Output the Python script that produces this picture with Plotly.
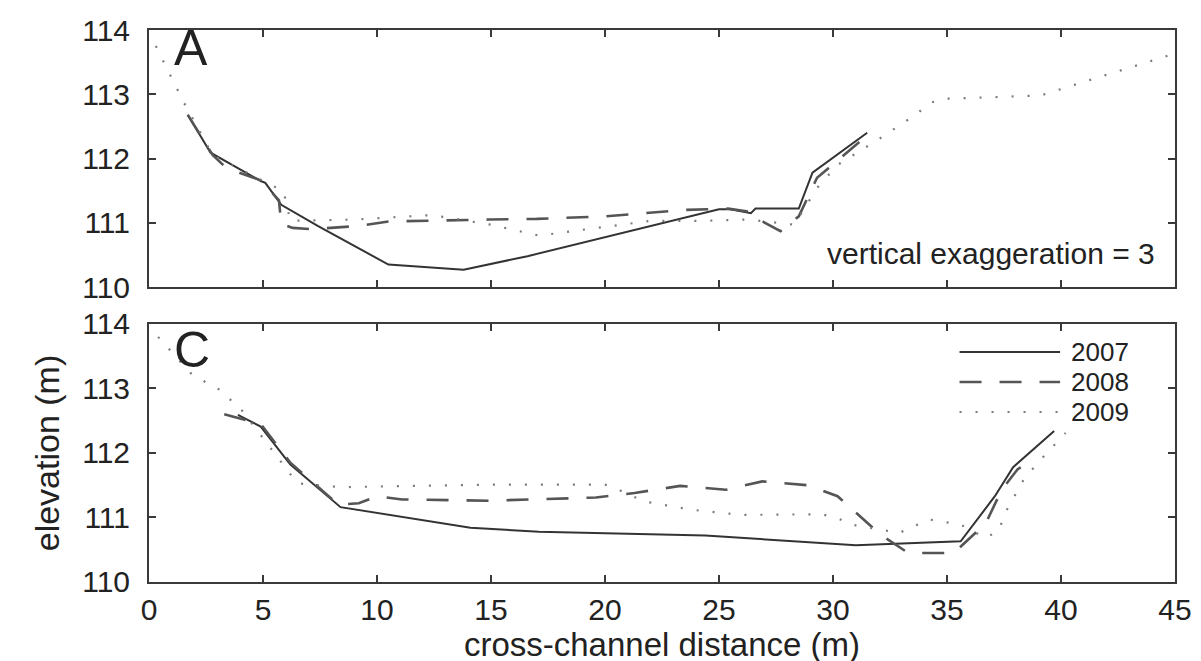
import plotly.graph_objects as go
from plotly.subplots import make_subplots

# ---------------- data ----------------
# Panel A
a2007_x = [1.7, 2.7, 4.9, 5.1, 5.8, 7.4, 10.5, 13.8, 16.6, 25.0, 25.5, 26.4, 26.6, 28.5, 29.1, 30.2, 31.5]
a2007_y = [112.68, 112.09, 111.65, 111.62, 111.28, 110.95, 110.35, 110.27, 110.48, 111.21, 111.21, 111.15,
           111.22, 111.22, 111.78, 112.06, 112.4]
a2008_x = [1.7, 2.8, 3.4, 4.9, 5.7, 5.8, 6.3, 7.1, 9.2, 10.5, 14.9, 17.0, 20.0, 23.5, 25.4, 26.4, 27.0,
           27.7, 28.5, 29.3, 29.8, 31.3]
a2008_y = [112.68, 112.05, 111.85, 111.66, 111.35, 110.98, 110.92, 110.9, 110.95, 111.02, 111.05, 111.06,
           111.1, 111.2, 111.22, 111.17, 111.0, 110.87, 111.1, 111.7, 111.85, 112.3]
a2009_x = [0.3, 1.5, 2.8, 4.7, 5.9, 6.2, 9.0, 12.4, 15.0, 17.1, 19.3, 22.0, 24.2, 26.3, 28.3, 29.3, 30.2,
           31.4, 32.0, 33.7, 34.2, 34.9, 39.1, 39.9, 44.6, 45.0]
a2009_y = [113.75, 112.89, 112.05, 111.7, 111.49, 111.03, 111.05, 111.12, 110.97, 110.8, 110.9, 111.03,
           111.03, 111.05, 110.97, 111.54, 111.9, 112.16, 112.3, 112.7, 112.86, 112.93, 112.98, 113.07,
           113.59, 113.65]

# Panel C
c2007_x = [3.9, 4.9, 6.2, 8.4, 14.1, 17.1, 24.4, 30.2, 31.0, 35.6, 37.1, 37.9, 39.7]
c2007_y = [112.59, 112.41, 111.82, 111.16, 110.84, 110.78, 110.72, 110.58, 110.57, 110.63, 111.33, 111.78, 112.34]
c2008_x = [3.3, 4.9, 6.2, 8.3, 9.2, 10.0, 11.1, 14.9, 19.6, 21.3, 23.3, 25.3, 26.9, 28.9, 30.2, 32.1, 33.3,
           35.3, 36.7, 37.4, 38.1, 38.9]
c2008_y = [112.6, 112.45, 111.85, 111.2, 111.22, 111.33, 111.28, 111.26, 111.31, 111.38, 111.49, 111.43,
           111.56, 111.5, 111.33, 110.73, 110.45, 110.45, 110.91, 111.43, 111.75, 111.92]
c2009_x = [0.4, 1.9, 3.1, 4.1, 6.1, 6.5, 8.4, 14.9, 20.0, 20.6, 21.7, 23.8, 26.0, 29.5, 30.2, 30.8, 32.9,
           34.2, 35.6, 36.7, 37.3, 37.5, 38.4, 39.3, 40.2]
c2009_y = [113.8, 113.21, 112.98, 112.65, 111.72, 111.53, 111.47, 111.51, 111.51, 111.43, 111.25, 111.12,
           111.04, 111.05, 110.99, 110.89, 110.76, 110.97, 110.89, 110.68, 110.81, 111.04, 111.61, 111.97, 112.31]

years = ["2007", "2008", "2009"]
x_ticks = [0, 5, 10, 15, 20, 25, 30, 35, 40, 45]
y_ticks = [110, 111, 112, 113, 114]

# ---------------- styles ----------------
FONT = "Liberation Sans, Arial, Helvetica, sans-serif"
TXT = "#222222"
FRAME = "#3a3a3a"
styles = {
    "2007": dict(color="#333333", width=2, dash="solid"),
    "2008": dict(color="#555555", width=2.6, dash="22px,18px"),
    "2009": dict(color="#7a7a7a", width=2.2, dash="2px,14px"),
}

fig = make_subplots(rows=2, cols=1, shared_xaxes=False, vertical_spacing=0.067)

for yr, xs, ys in zip(years, [a2007_x, a2008_x, a2009_x], [a2007_y, a2008_y, a2009_y]):
    fig.add_trace(go.Scatter(x=xs, y=ys, mode="lines", name=yr, line=styles[yr], showlegend=False),
                  row=1, col=1)
for yr, xs, ys in zip(years, [c2007_x, c2008_x, c2009_x], [c2007_y, c2008_y, c2009_y]):
    fig.add_trace(go.Scatter(x=xs, y=ys, mode="lines", name=yr, line=styles[yr], showlegend=False),
                  row=2, col=1)

axis_common = dict(showline=True, linecolor=FRAME, linewidth=2, mirror="ticks", ticks="inside",
                   ticklen=7, tickwidth=2, tickcolor=FRAME, showgrid=False, zeroline=False,
                   automargin=False, tickfont=dict(family=FONT, size=30, color=TXT))

fig.update_xaxes(range=[0, 45], tickvals=x_ticks, **axis_common)
fig.update_yaxes(range=[110, 114], tickvals=y_ticks, ticklabelstandoff=11, **axis_common)
fig.update_xaxes(showticklabels=False, row=1, col=1)
fig.update_xaxes(ticklabelstandoff=0,
                 title=dict(text="cross-channel distance (m)", standoff=4,
                            font=dict(family=FONT, size=33, color=TXT)), row=2, col=1)
fig.update_yaxes(title=dict(text="elevation (m)", standoff=12,
                            font=dict(family=FONT, size=34, color=TXT)), row=2, col=1)

fig.update_layout(
    width=1201, height=661,
    margin=dict(l=141, r=34, t=22, b=87, autoexpand=False),
    paper_bgcolor="white", plot_bgcolor="white",
)
fig.layout.yaxis.domain = [0.5344, 1.0]
fig.layout.yaxis2.domain = [0.0, 0.4674]

# panel letters and note
fig.add_annotation(text="A", xref="x domain", yref="y domain", x=0.022, y=0.93, xanchor="left",
                   yanchor="middle", showarrow=False, font=dict(family=FONT, size=50, color=TXT), row=1, col=1)
fig.add_annotation(text="C", xref="x domain", yref="y domain", x=0.022, y=0.9, xanchor="left",
                   yanchor="middle", showarrow=False, font=dict(family=FONT, size=50, color=TXT), row=2, col=1)
fig.add_annotation(text="vertical exaggeration = 3", xref="x domain", yref="y domain", x=0.982, y=0.13,
                   xanchor="right", yanchor="middle", showarrow=False,
                   font=dict(family=FONT, size=30, color=TXT), row=1, col=1)

# custom legend in panel C
leg_y = [0.8915, 0.7752, 0.6589]
for yr, ly in zip(years, leg_y):
    st = styles[yr]
    fig.add_shape(type="line", xref="x2 domain", yref="y2 domain", x0=0.79, x1=0.888, y0=ly, y1=ly,
                  line=dict(color=st["color"], width=st["width"], dash=st["dash"]))
    fig.add_annotation(text=yr, xref="x2 domain", yref="y2 domain", x=0.897, y=ly, xanchor="left",
                       yanchor="middle", showarrow=False, font=dict(family=FONT, size=26, color=TXT))

fig.write_html("out.html")
